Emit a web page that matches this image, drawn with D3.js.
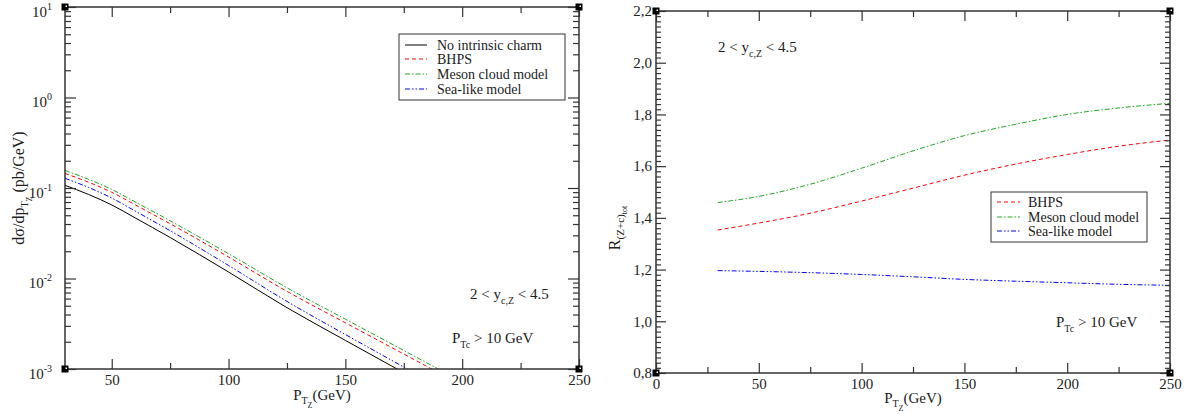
<!DOCTYPE html>
<html><head><meta charset="utf-8">
<script src="https://cdn.jsdelivr.net/npm/d3@7"></script>
<style>
body{margin:0;background:#fff;}
svg, svg text{font-family:"Liberation Serif","DejaVu Serif","Times New Roman",serif;}
</style></head>
<body>
<svg id="c" width="1194" height="414"></svg>
<script>
// ---------- data ----------
const pTLeft   = [30, 40, 50, 60, 75, 100, 125, 150, 175, 200];
const noCharm  = [0.107, 0.085, 0.065, 0.0468, 0.0284, 0.0118, 0.00476, 0.00207, 0.00091, 0.00040];
const bhpsL    = [0.1448, 0.1161, 0.0897, 0.0653, 0.0403, 0.01729, 0.00721, 0.00324, 0.001463, 0.000658];
const mesonL   = [0.1561, 0.1250, 0.0964, 0.0702, 0.04345, 0.01879, 0.0079, 0.003556, 0.001603, 0.00072];
const seaL     = [0.1280, 0.1016, 0.0775, 0.0557, 0.03374, 0.01394, 0.00558, 0.002405, 0.001051, 0.00046];

const pTRight  = [30, 50, 75, 100, 125, 150, 175, 200, 225, 250];
const bhpsR    = [1.353, 1.380, 1.418, 1.465, 1.515, 1.565, 1.608, 1.645, 1.677, 1.701];
const mesonR   = [1.459, 1.483, 1.530, 1.592, 1.659, 1.718, 1.762, 1.800, 1.825, 1.843];
const seaR     = [1.196, 1.193, 1.188, 1.181, 1.172, 1.162, 1.155, 1.149, 1.143, 1.139];

const xTicksLeft  = [50, 100, 150, 200, 250];
const xTicksRight = [0, 50, 100, 150, 200, 250];
const yTicksLeft  = [1e-3, 1e-2, 1e-1, 1, 10];
const yExpLeft    = ["-3", "-2", "-1", "0", "1"];
const yTicksRight = [0.8, 1.0, 1.2, 1.4, 1.6, 1.8, 2.0, 2.2];
const yLabelsRight = ["0,8", "1,0", "1,2", "1,4", "1,6", "1,8", "2,0", "2,2"];
const legendLeft  = ["No intrinsic charm", "BHPS", "Meson cloud model", "Sea-like model"];
const legendRight = ["BHPS", "Meson cloud model", "Sea-like model"];

// ---------- styles ----------
const FONT = '"Liberation Serif","DejaVu Serif",serif';
const styles = {
  none:  {color: "#000000", dash: null},
  bhps:  {color: "#ff0000", dash: "4,3"},
  meson: {color: "#1fa81f", dash: "5,2,1.5,2"},
  sea:   {color: "#0000ff", dash: "5,2,1.5,2,1.5,2"}
};
const frameColor = "#333";
const svg = d3.select("#c").attr("font-family", FONT);

function corners(g, x0, x1, y0, y1) {
  [[x0,y0],[x1,y0],[x0,y1],[x1,y1]].forEach(([a,b]) => {
    g.append("rect").attr("x", a-3.5).attr("y", b-3.5).attr("width", 7).attr("height", 7).attr("fill", "#000");
    g.append("rect").attr("x", a+0.5).attr("y", b-1.5).attr("width", 1.5).attr("height", 1.5).attr("fill", "#fff");
  });
}

function styleAxis(g) {
  g.attr("font-family", FONT).attr("font-size", 15);
  g.select(".domain").remove();
  g.selectAll(".tick line").attr("stroke", frameColor).attr("stroke-width", 1.2);
  g.selectAll(".tick text").attr("fill", "#222").attr("font-family", FONT).style("font-size", "15px");
}

// ================= LEFT PANEL =================
{
  const x = d3.scaleLinear().domain([30, 250]).range([65, 579]);
  const y = d3.scaleLog().domain([1e-3, 10]).range([369, 7]);
  const g = svg.append("g");

  const minorY = [];
  for (let k = -3; k < 1; k++) for (let m = 2; m <= 9; m++) minorY.push(m * Math.pow(10, k));
  const minorX = [75, 125, 175, 225];

  g.append("defs").append("clipPath").attr("id", "clipL").append("rect")
    .attr("x", 65).attr("y", 7).attr("width", 514).attr("height", 362);

  const series = [
    {vals: noCharm, s: styles.none},
    {vals: bhpsL, s: styles.bhps},
    {vals: mesonL, s: styles.meson},
    {vals: seaL, s: styles.sea}
  ];
  const line = d3.line().curve(d3.curveMonotoneX).x(d => x(d[0])).y(d => y(d[1]));
  series.forEach(se => {
    g.append("path").attr("clip-path", "url(#clipL)")
      .attr("d", line(pTLeft.map((p, i) => [p, se.vals[i]])))
      .attr("fill", "none").attr("stroke", se.s.color).attr("stroke-width", 1)
      .attr("stroke-dasharray", se.s.dash);
  });

  const gb = g.append("g").attr("transform", "translate(0,369)")
    .call(d3.axisBottom(x).tickValues(xTicksLeft).tickSize(-10).tickPadding(5));
  styleAxis(gb);
  g.append("g").attr("transform", "translate(0,369)")
    .call(d3.axisBottom(x).tickValues(minorX).tickSize(-6).tickFormat(""))
    .call(styleAxis);
  g.append("g").attr("transform", "translate(0,7)")
    .call(d3.axisTop(x).tickValues(xTicksLeft).tickSize(-10).tickFormat("")).call(styleAxis);
  g.append("g").attr("transform", "translate(0,7)")
    .call(d3.axisTop(x).tickValues(minorX).tickSize(-6).tickFormat("")).call(styleAxis);

  const gl = g.append("g").attr("transform", "translate(65,0)")
    .call(d3.axisLeft(y).tickValues(yTicksLeft).tickSize(-11).tickPadding(13).tickFormat(() => ""));
  styleAxis(gl);
  gl.selectAll(".tick text").each(function(d, i) {
    const t = d3.select(this).attr("text-anchor", "end").attr("dy", "0.6em").attr("x", -13);
    t.append("tspan").text("10");
    t.append("tspan").attr("dy", -7).style("font-size", "10px").text(yExpLeft[i]);
  });
  g.append("g").attr("transform", "translate(65,0)")
    .call(d3.axisLeft(y).tickValues(minorY).tickSize(-6).tickFormat("")).call(styleAxis);
  g.append("g").attr("transform", "translate(579,0)")
    .call(d3.axisRight(y).tickValues(yTicksLeft).tickSize(-11).tickFormat("")).call(styleAxis);
  g.append("g").attr("transform", "translate(579,0)")
    .call(d3.axisRight(y).tickValues(minorY).tickSize(-6).tickFormat("")).call(styleAxis);

  g.append("rect").attr("x", 65).attr("y", 7).attr("width", 514).attr("height", 362)
    .attr("fill", "none").attr("stroke", frameColor).attr("stroke-width", 1.5);
  corners(g, 65, 579, 7, 369);

  const xt = g.append("text").attr("x", 322).attr("y", 400).attr("text-anchor", "middle")
    .style("font-size", "15px").attr("fill", "#222");
  xt.append("tspan").text("P");
  xt.append("tspan").attr("dy", 4).style("font-size", "10px").text("T");
  xt.append("tspan").attr("dy", 4).style("font-size", "8px").text("Z");
  xt.append("tspan").attr("dy", -8).text("(GeV)");

  const yt = g.append("text").attr("transform", "translate(24,188) rotate(-90)").attr("text-anchor", "middle")
    .style("font-size", "16px").attr("fill", "#222");
  yt.append("tspan").text("dσ/dp");
  yt.append("tspan").attr("dy", 4).style("font-size", "10px").text("T");
  yt.append("tspan").attr("dy", 4).style("font-size", "8px").text("Z");
  yt.append("tspan").attr("dy", -8).text(" (pb/GeV)");

  const lg = g.append("g");
  lg.append("rect").attr("x", 399).attr("y", 34).attr("width", 166).attr("height", 66)
    .attr("fill", "#fff").attr("stroke", "#333").attr("stroke-width", 1);
  const sts = [styles.none, styles.bhps, styles.meson, styles.sea];
  const ly = [45, 59, 74, 89];
  legendLeft.forEach((name, i) => {
    lg.append("line").attr("x1", 405).attr("x2", 427).attr("y1", ly[i]).attr("y2", ly[i])
      .attr("stroke", sts[i].color).attr("stroke-width", 1).attr("stroke-dasharray", sts[i].dash);
    lg.append("text").attr("x", 437).attr("y", ly[i]).attr("dy", "0.33em")
      .style("font-size", "14px").attr("fill", "#222").text(name);
  });

  const a1 = g.append("text").attr("x", 470).attr("y", 299).style("font-size", "15px").attr("fill", "#222");
  a1.append("tspan").text("2 < y");
  a1.append("tspan").attr("dy", 5).style("font-size", "10px").text("c,Z");
  a1.append("tspan").attr("dy", -5).text(" < 4.5");
  const a2 = g.append("text").attr("x", 452).attr("y", 343).style("font-size", "15px").attr("fill", "#222");
  a2.append("tspan").text("P");
  a2.append("tspan").attr("dy", 5).style("font-size", "10px").text("Tc");
  a2.append("tspan").attr("dy", -5).text(" > 10 GeV");
}

// ================= RIGHT PANEL =================
{
  const x = d3.scaleLinear().domain([0, 250]).range([656, 1170]);
  const y = d3.scaleLinear().domain([0.8, 2.2]).range([373, 11]);
  const g = svg.append("g");
  const minorX = [25, 75, 125, 175, 225];
  const minorY = d3.range(0, 71).map(i => 0.8 + i * 0.02).filter(v => Math.abs((v * 5) - Math.round(v * 5)) > 1e-6);

  const series = [
    {vals: bhpsR, s: styles.bhps},
    {vals: mesonR, s: styles.meson},
    {vals: seaR, s: styles.sea}
  ];
  const line = d3.line().curve(d3.curveMonotoneX).x(d => x(d[0])).y(d => y(d[1]));
  series.forEach(se => {
    g.append("path").attr("d", line(pTRight.map((p, i) => [p, se.vals[i]])))
      .attr("fill", "none").attr("stroke", se.s.color).attr("stroke-width", 1)
      .attr("stroke-dasharray", se.s.dash);
  });

  const gb = g.append("g").attr("transform", "translate(0,373)")
    .call(d3.axisBottom(x).tickValues(xTicksRight).tickSize(-10).tickPadding(5));
  styleAxis(gb);
  g.append("g").attr("transform", "translate(0,373)")
    .call(d3.axisBottom(x).tickValues(minorX).tickSize(-6).tickFormat("")).call(styleAxis);
  g.append("g").attr("transform", "translate(0,11)")
    .call(d3.axisTop(x).tickValues(xTicksRight).tickSize(-10).tickFormat("")).call(styleAxis);
  g.append("g").attr("transform", "translate(0,11)")
    .call(d3.axisTop(x).tickValues(minorX).tickSize(-6).tickFormat("")).call(styleAxis);

  const gl = g.append("g").attr("transform", "translate(656,0)")
    .call(d3.axisLeft(y).tickValues(yTicksRight).tickSize(-10).tickPadding(4)
      .tickFormat((d, i) => yLabelsRight[i]));
  styleAxis(gl);
  g.append("g").attr("transform", "translate(656,0)")
    .call(d3.axisLeft(y).tickValues(minorY).tickSize(-5).tickFormat("")).call(styleAxis);
  g.append("g").attr("transform", "translate(1170,0)")
    .call(d3.axisRight(y).tickValues(yTicksRight).tickSize(-10).tickFormat("")).call(styleAxis);
  g.append("g").attr("transform", "translate(1170,0)")
    .call(d3.axisRight(y).tickValues(minorY).tickSize(-5).tickFormat("")).call(styleAxis);

  g.append("rect").attr("x", 656).attr("y", 11).attr("width", 514).attr("height", 362)
    .attr("fill", "none").attr("stroke", frameColor).attr("stroke-width", 1.5);
  corners(g, 656, 1170, 11, 373);

  const xt = g.append("text").attr("x", 913).attr("y", 403).attr("text-anchor", "middle")
    .style("font-size", "15px").attr("fill", "#222");
  xt.append("tspan").text("P");
  xt.append("tspan").attr("dy", 4).style("font-size", "10px").text("T");
  xt.append("tspan").attr("dy", 4).style("font-size", "8px").text("Z");
  xt.append("tspan").attr("dy", -8).text("(GeV)");

  const yt = g.append("text").attr("transform", "translate(620,228) rotate(-90)").attr("text-anchor", "middle")
    .style("font-size", "16px").attr("fill", "#222");
  yt.append("tspan").text("R");
  yt.append("tspan").attr("dy", 4).style("font-size", "11px").text("(Z+c)");
  yt.append("tspan").attr("dy", 3).style("font-size", "8px").text("tot");

  const lg = g.append("g");
  lg.append("rect").attr("x", 991).attr("y", 192).attr("width", 156).attr("height", 50)
    .attr("fill", "#fff").attr("stroke", "#333").attr("stroke-width", 1);
  const sts = [styles.bhps, styles.meson, styles.sea];
  const ly = [202, 217, 231];
  legendRight.forEach((name, i) => {
    lg.append("line").attr("x1", 997).attr("x2", 1020).attr("y1", ly[i]).attr("y2", ly[i])
      .attr("stroke", sts[i].color).attr("stroke-width", 1).attr("stroke-dasharray", sts[i].dash);
    lg.append("text").attr("x", 1028).attr("y", ly[i]).attr("dy", "0.33em")
      .style("font-size", "14px").attr("fill", "#222").text(name);
  });

  const a1 = g.append("text").attr("x", 718).attr("y", 52).style("font-size", "15px").attr("fill", "#222");
  a1.append("tspan").text("2 < y");
  a1.append("tspan").attr("dy", 5).style("font-size", "10px").text("c,Z");
  a1.append("tspan").attr("dy", -5).text(" < 4.5");
  const a2 = g.append("text").attr("x", 1056).attr("y", 327).style("font-size", "15px").attr("fill", "#222");
  a2.append("tspan").text("P");
  a2.append("tspan").attr("dy", 5).style("font-size", "10px").text("Tc");
  a2.append("tspan").attr("dy", -5).text(" > 10 GeV");
}
</script>
</body></html>
